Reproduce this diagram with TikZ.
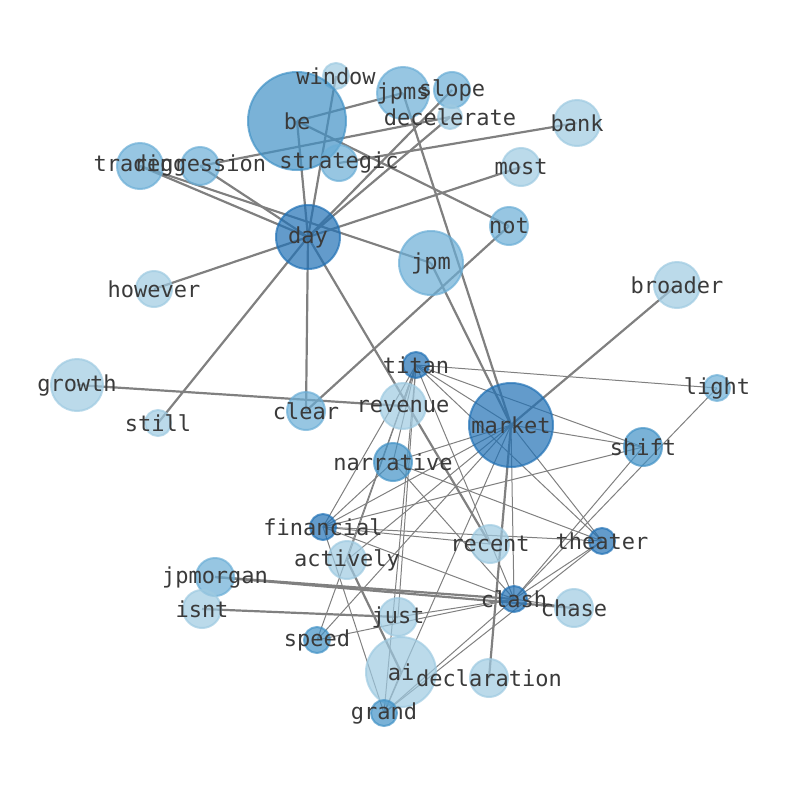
\documentclass[tikz,border=0pt]{standalone}
\usepackage{fontspec}
\newfontfamily\monofont{DejaVu Sans Mono}
\definecolor{Lone}{HTML}{9ECAE1}
\definecolor{Ltwo}{HTML}{6BAED6}
\definecolor{Lthree}{HTML}{4292C6}
\definecolor{Lfour}{HTML}{2171B5}
\definecolor{edgegray}{HTML}{808080}
\definecolor{labelc}{HTML}{3A3A3A}
\begin{document}
\begin{tikzpicture}[x=1pt,y=-1pt,
  vtx/.style={circle,inner sep=0pt,line width=2pt,fill opacity=0.7,draw opacity=0.7},
  cA/.style={vtx,fill=Lone,draw=Lone},
  cB/.style={vtx,fill=Ltwo,draw=Ltwo},
  cC/.style={vtx,fill=Lthree,draw=Lthree},
  cD/.style={vtx,fill=Lfour,draw=Lfour},
  lab/.style={inner sep=0pt,text=labelc,font=\monofont\fontsize{22}{24}\selectfont},
  thick edge/.style={draw=edgegray,line width=2.2pt},
  thin edge/.style={draw=edgegray,line width=1pt}]
\useasboundingbox (0,0) rectangle (794,790);
% node coordinates
\coordinate (window) at (336,76);
\coordinate (be) at (297,121);
\coordinate (jpms) at (403,93);
\coordinate (slope) at (452,90);
\coordinate (decelerate) at (450,117);
\coordinate (bank) at (577,123);
\coordinate (trading) at (140,166);
\coordinate (regression) at (200,166);
\coordinate (strategic) at (339,163);
\coordinate (most) at (521,167);
\coordinate (day) at (308,237);
\coordinate (not) at (509,226);
\coordinate (jpm) at (431,263);
\coordinate (however) at (154,289);
\coordinate (broader) at (677,285);
\coordinate (titan) at (416,365);
\coordinate (growth) at (77,385);
\coordinate (light) at (717,388);
\coordinate (still) at (158,423);
\coordinate (clear) at (306,411);
\coordinate (revenue) at (403,406);
\coordinate (market) at (511,425);
\coordinate (shift) at (643,447);
\coordinate (narrative) at (393,462);
\coordinate (financial) at (323,527);
\coordinate (actively) at (347,560);
\coordinate (recent) at (490,544);
\coordinate (theater) at (602,541);
\coordinate (jpmorgan) at (215,577);
\coordinate (isnt) at (202,609);
\coordinate (clash) at (514,599);
\coordinate (chase) at (574,608);
\coordinate (just) at (398,617);
\coordinate (speed) at (317,640);
\coordinate (ai) at (401,672);
\coordinate (declaration) at (489,678);
\coordinate (grand) at (384,713);
% thick edges
\foreach \a/\b in {be/day,be/jpms,be/not,regression/day,regression/decelerate,trading/day,trading/jpm,
  strategic/bank,window/day,day/slope,day/decelerate,day/most,day/however,day/still,day/clear,day/recent,
  clear/not,growth/revenue,jpms/market,jpm/market,market/broader,market/declaration,jpmorgan/clash,
  jpmorgan/chase,isnt/just,actively/ai}
  \draw[thick edge] (\a) -- (\b);
% thin edges
\foreach \a/\b in {titan/light,titan/shift,titan/market,titan/theater,titan/clash,titan/narrative,
  titan/financial,titan/actively,titan/speed,titan/just,titan/grand,titan/revenue,
  market/narrative,market/financial,market/shift,market/theater,market/clash,market/grand,market/actively,
  market/speed,financial/shift,financial/theater,financial/recent,financial/clash,financial/narrative,
  narrative/clash,narrative/theater,clash/chase,clash/just,clash/grand,clash/shift,clash/light,clash/theater,
  grand/ai,grand/financial,grand/theater,speed/clash}
  \draw[thin edge] (\a) -- (\b);
% nodes
\node[cA,minimum size=26pt] (nwindow) at (window) {};
\node[cC,minimum size=98pt] (nbe) at (be) {};
\node[cB,minimum size=52pt] (njpms) at (jpms) {};
\node[cB,minimum size=36pt] (nslope) at (slope) {};
\node[cA,minimum size=24pt] (ndecelerate) at (decelerate) {};
\node[cA,minimum size=46pt] (nbank) at (bank) {};
\node[cB,minimum size=46pt] (ntrading) at (trading) {};
\node[cB,minimum size=38pt] (nregression) at (regression) {};
\node[cB,minimum size=36pt] (nstrategic) at (strategic) {};
\node[cA,minimum size=38pt] (nmost) at (most) {};
\node[cD,minimum size=64pt] (nday) at (day) {};
\node[cB,minimum size=38pt] (nnot) at (not) {};
\node[cB,minimum size=64pt] (njpm) at (jpm) {};
\node[cA,minimum size=36pt] (nhowever) at (however) {};
\node[cA,minimum size=46pt] (nbroader) at (broader) {};
\node[cD,minimum size=26pt] (ntitan) at (titan) {};
\node[cA,minimum size=52pt] (ngrowth) at (growth) {};
\node[cB,minimum size=26pt] (nlight) at (light) {};
\node[cA,minimum size=26pt] (nstill) at (still) {};
\node[cB,minimum size=38pt] (nclear) at (clear) {};
\node[cA,minimum size=46pt] (nrevenue) at (revenue) {};
\node[cD,minimum size=84pt] (nmarket) at (market) {};
\node[cC,minimum size=38pt] (nshift) at (shift) {};
\node[cC,minimum size=38pt] (nnarrative) at (narrative) {};
\node[cD,minimum size=26pt] (nfinancial) at (financial) {};
\node[cA,minimum size=38pt] (nactively) at (actively) {};
\node[cA,minimum size=38pt] (nrecent) at (recent) {};
\node[cD,minimum size=26pt] (ntheater) at (theater) {};
\node[cB,minimum size=38pt] (njpmorgan) at (jpmorgan) {};
\node[cA,minimum size=38pt] (nisnt) at (isnt) {};
\node[cD,minimum size=26pt] (nclash) at (clash) {};
\node[cA,minimum size=38pt] (nchase) at (chase) {};
\node[cA,minimum size=38pt] (njust) at (just) {};
\node[cC,minimum size=26pt] (nspeed) at (speed) {};
\node[cA,minimum size=70pt] (nai) at (ai) {};
\node[cA,minimum size=38pt] (ndeclaration) at (declaration) {};
\node[cC,minimum size=26pt] (ngrand) at (grand) {};
% labels
\foreach \n in {window,be,jpms,slope,decelerate,bank,trading,regression,strategic,most,day,not,jpm,
  however,broader,titan,growth,light,still,clear,revenue,market,shift,narrative,financial,actively,
  recent,theater,jpmorgan,isnt,clash,chase,just,speed,ai,declaration,grand}
  \node[lab] (t\n) at (\n) {\n};
\end{tikzpicture}
\end{document}
